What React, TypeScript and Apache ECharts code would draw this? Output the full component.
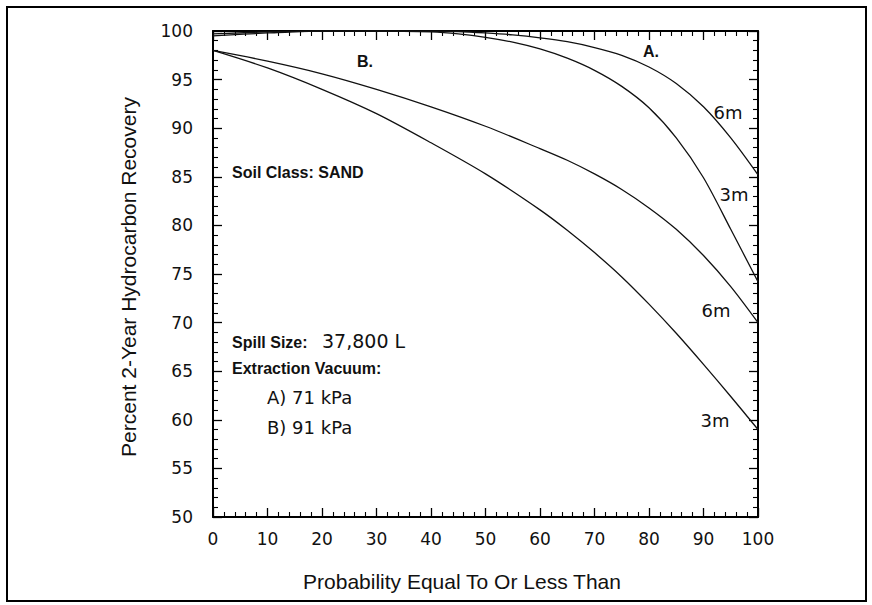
import React, { useEffect, useRef } from "react";
import * as echarts from "echarts";

// Probability (x, %) and percent 2-year hydrocarbon recovery (y, %)
const probA = [0, 10, 20, 30, 40, 45, 50, 55, 60, 65, 70, 75, 80, 85, 90, 95, 100];
const recoveryA6m = [99.7, 99.9, 100, 100, 100, 99.95, 99.8, 99.6, 99.3, 98.9, 98.3, 97.5, 96.3, 94.6, 92.2, 89.0, 85.2];
const recoveryA3m = [99.5, 99.8, 100, 100, 99.9, 99.7, 99.35, 98.85, 98.15, 97.2, 95.95, 94.3, 92.1, 89.0, 84.9, 79.6, 74.2];

const probB = [0, 10, 20, 30, 40, 50, 60, 65, 70, 75, 80, 85, 90, 95, 100];
const recoveryB6m = [98.0, 96.9, 95.6, 94.0, 92.2, 90.2, 87.9, 86.7, 85.3, 83.7, 81.8, 79.6, 76.9, 73.7, 70.0];
const recoveryB3m = [98.0, 96.2, 94.0, 91.5, 88.5, 85.3, 81.6, 79.5, 77.2, 74.7, 71.9, 68.9, 65.7, 62.4, 59.0];

const xTitle = "Probability Equal To Or Less Than";
const yTitle = "Percent 2-Year Hydrocarbon Recovery";

const pairs = (xs: number[], ys: number[]) => xs.map((x, i) => [x, ys[i]]);

const tickFont = "DejaVu Sans";
const textFont = "Liberation Sans";

export default function App() {
  const ref = useRef<HTMLDivElement>(null);
  useEffect(() => {
    document.body.style.margin = "0";
    if (!ref.current) return;
    const chart = echarts.init(ref.current, undefined, { renderer: "svg" });
    const axisCommon = {
      type: "value" as const,
      axisLine: { show: true, onZero: false, lineStyle: { color: "#000", width: 2 } },
      axisTick: { show: true, inside: true, length: 9, lineStyle: { color: "#000", width: 1.3 } },
      minorTick: { show: true, splitNumber: 5, length: 5, lineStyle: { color: "#000", width: 1.1 } },
      splitLine: { show: false },
      minorSplitLine: { show: false },
    };
    const lineSeries = (data: number[][]) => ({
      type: "line" as const,
      data,
      smooth: 0.3,
      symbol: "none",
      lineStyle: { color: "#111", width: 1.3 },
      xAxisIndex: 0,
      yAxisIndex: 0,
    });
    const txt = (text: string, x: number, y: number, font: string, align = "left") => ({
      type: "text",
      x,
      y,
      style: { text, font, fill: "#111", textAlign: align, textVerticalAlign: "middle" },
    });
    chart.setOption({
      animation: false,
      backgroundColor: "#fff",
      grid: { left: 213, right: 114, top: 31, bottom: 88, containLabel: false },
      xAxis: [
        {
          ...axisCommon,
          position: "bottom",
          min: 0,
          max: 100,
          interval: 10,
          axisLabel: { fontFamily: tickFont, fontSize: 17, color: "#111", margin: 13 },
        },
        {
          ...axisCommon,
          position: "top",
          min: 0,
          max: 100,
          interval: 10,
          axisLabel: { show: false },
        },
      ],
      yAxis: [
        {
          ...axisCommon,
          position: "left",
          min: 50,
          max: 100,
          interval: 5,
          axisLabel: { fontFamily: tickFont, fontSize: 17, color: "#111", margin: 20 },
        },
        {
          ...axisCommon,
          position: "right",
          min: 50,
          max: 100,
          interval: 5,
          axisLabel: { show: false },
        },
      ],
      series: [
        lineSeries(pairs(probA, recoveryA6m)),
        lineSeries(pairs(probA, recoveryA3m)),
        lineSeries(pairs(probB, recoveryB6m)),
        lineSeries(pairs(probB, recoveryB3m)),
      ],
      graphic: [
        {
          type: "rect",
          shape: { x: 7, y: 7, width: 859, height: 594 },
          style: { fill: "none", stroke: "#000", lineWidth: 2 },
          z: 10,
        },
        txt(xTitle, 462, 581, `21px "${textFont}"`, "center"),
        {
          type: "text",
          x: 128,
          y: 277,
          rotation: Math.PI / 2,
          style: { text: yTitle, font: `21px "${textFont}"`, fill: "#111", textAlign: "center", textVerticalAlign: "middle" },
        },
        txt("A.", 651, 51, `bold 16px "${textFont}"`, "center"),
        txt("B.", 365, 61, `bold 16px "${textFont}"`, "center"),
        txt("6m", 728, 112, `18px "${tickFont}"`, "center"),
        txt("3m", 734, 194, `18px "${tickFont}"`, "center"),
        txt("6m", 716, 310, `18px "${tickFont}"`, "center"),
        txt("3m", 715, 420, `18px "${tickFont}"`, "center"),
        txt("Soil Class: SAND", 232, 172, `bold 16px "${textFont}"`),
        txt("Spill Size:", 232, 342, `bold 16px "${textFont}"`),
        txt("37,800 L", 322, 341, `19px "${tickFont}"`),
        txt("Extraction Vacuum:", 232, 368, `bold 16px "${textFont}"`),
        txt("A) 71 kPa", 267, 397, `18px "${tickFont}"`),
        txt("B) 91 kPa", 267, 427, `18px "${tickFont}"`),
      ],
    });
    return () => chart.dispose();
  }, []);
  return <div ref={ref} style={{ width: 872, height: 605 }} />;
}
